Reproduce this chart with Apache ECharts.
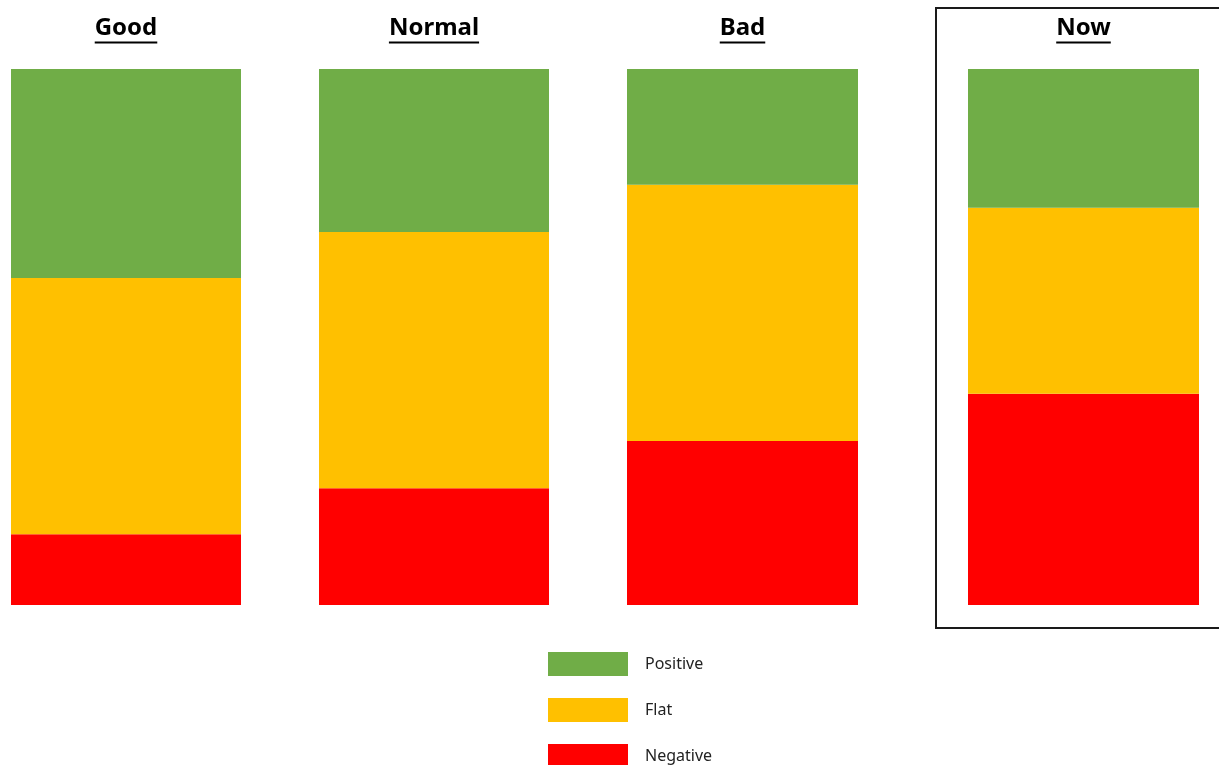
<!DOCTYPE html>
<html>
<head>
<meta charset="utf-8">
<script src="https://cdn.jsdelivr.net/npm/echarts@6/dist/echarts.min.js"></script>
<style>
  html, body { margin: 0; padding: 0; background: #fff; }
  #chart { width: 1219px; height: 765px; }
</style>
</head>
<body>
<div id="chart"></div>
<script>
// Scenario names and the share (%) of each outcome within them
const scenarios = ['Good', 'Normal', 'Bad', 'Now'];
const positive = [39.0, 30.4, 21.6, 25.9];
const flat     = [47.8, 47.8, 47.8, 34.7];
const negative = [13.2, 21.8, 30.6, 39.4];

const outcomeNames = ['Positive', 'Flat', 'Negative'];
const outcomeColors = { Positive: '#70AD47', Flat: '#FFC000', Negative: '#FF0000' };

// Placement of each scenario column on the page
const columns = [
  { left: 11,  width: 230 },
  { left: 319, width: 230 },
  { left: 627, width: 231 },
  { left: 968, width: 231 }
];
const plotTop = 69, plotBottom = 160;
const titleFont = 'bold 24px "Noto Sans"';

const chart = echarts.init(document.getElementById('chart'), null, { renderer: 'canvas' });

const grids = [], xAxes = [], yAxes = [], series = [];
scenarios.forEach((name, i) => {
  grids.push({ left: columns[i].left, width: columns[i].width, top: plotTop, bottom: plotBottom });
  xAxes.push({ gridIndex: i, type: 'category', data: [name], show: false });
  yAxes.push({ gridIndex: i, type: 'value', min: 0, max: 100, show: false });
  const parts = [['Negative', negative], ['Flat', flat], ['Positive', positive]];
  parts.forEach(([sName, arr]) => {
    series.push({
      name: sName,
      type: 'bar',
      xAxisIndex: i,
      yAxisIndex: i,
      stack: 'share' + i,
      barWidth: '100%',
      data: [arr[i]],
      itemStyle: { color: outcomeColors[sName] },
      emphasis: { disabled: true },
      animation: false
    });
  });
});

// Underlined column headings
const measure = document.createElement('canvas').getContext('2d');
measure.font = titleFont;
const graphics = [];
scenarios.forEach((name, i) => {
  const cx = columns[i].left + columns[i].width / 2;
  const w = measure.measureText(name).width;
  graphics.push({
    type: 'text',
    left: cx - w / 2,
    top: 16,
    style: { text: name, font: titleFont, fill: '#000' }
  });
  graphics.push({
    type: 'line',
    shape: { x1: cx - w / 2, y1: 42.5, x2: cx + w / 2, y2: 42.5 },
    style: { stroke: '#000', lineWidth: 2 }
  });
});
// Frame around the current scenario
graphics.push({
  type: 'rect',
  shape: { x: 936, y: 8, width: 300, height: 620 },
  style: { fill: 'none', stroke: '#1a1a1a', lineWidth: 2 }
});

chart.setOption({
  animation: false,
  grid: grids,
  xAxis: xAxes,
  yAxis: yAxes,
  series: series,
  legend: {
    orient: 'vertical',
    left: 548,
    top: 652,
    height: 200,
    padding: 0,
    data: outcomeNames,
    itemWidth: 80,
    itemHeight: 24,
    itemGap: 22,
    icon: 'rect',
    selectedMode: false,
    textStyle: {
      fontFamily: 'Noto Sans',
      fontSize: 16,
      color: '#222',
      padding: [3, 0, 0, 12]
    }
  },
  graphic: graphics
});
</script>
</body>
</html>
